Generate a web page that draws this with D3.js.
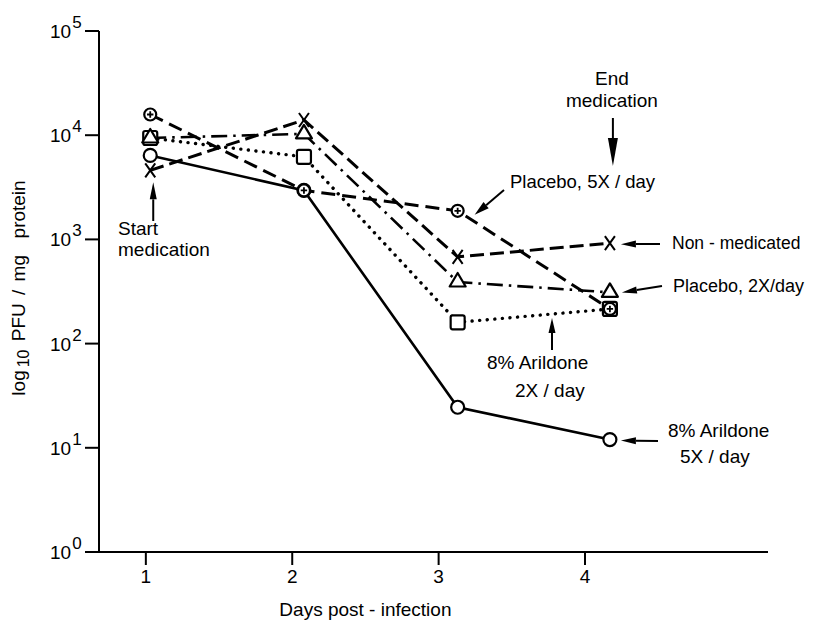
<!DOCTYPE html>
<html>
<head>
<meta charset="utf-8">
<script src="https://cdn.jsdelivr.net/npm/d3@7"></script>
<style>
	body { margin: 0; background: #fff; }
	svg { display: block; font-family: "Liberation Sans", Arial, sans-serif; }
	text { fill: #000; font-size: 19px; white-space: pre; }
</style>
</head>
<body>
<svg id="chart" width="816" height="621"></svg>
<script>
// sampling days as plotted (markers sit a little right of the tick marks)
const days = [1.03, 2.08, 3.13, 4.17];
const dayTicks = [1, 2, 3, 4];
const decades = [1, 10, 100, 1000, 10000, 100000];
const exponents = ["0", "1", "2", "3", "4", "5"];

// PFU / mg protein per group
const arildone5 = [6400, 2950, 24.5, 12];
const arildone2 = [9400, 6200, 160, 215];
const placebo5 = [15800, 2950, 1880, 215];
const placebo2 = [9400, 10300, 390, 310];
const nonMedicated = [4600, 14000, 680, 920];

const ink = "#000";

let svg = d3.select("#chart");

let x = d3.scaleLinear().domain([0.68, 5.25]).range([99, 768]);
let y = d3.scaleLog().domain([1, 1e5]).range([552, 31]);

// axes
let yAxis = svg.append("g")
	.attr("transform", "translate(99,0)")
	.call(d3.axisLeft(y).tickValues(decades).tickSize(14).tickSizeOuter(0).offset(0).tickFormat(""));

let xAxis = svg.append("g")
	.attr("transform", "translate(0,552)")
	.call(d3.axisBottom(x).tickValues(dayTicks).tickSize(13).tickSizeOuter(0).offset(0).tickPadding(5).tickFormat(d3.format("d")));

svg.selectAll("g").attr("font-size", null).attr("font-family", null);
svg.selectAll(".domain, .tick line").attr("stroke", ink).attr("stroke-width", 2);
xAxis.select(".domain").attr("d", "M99,0H" + x.range()[1]);

yAxis.selectAll(".tick text")
	.attr("x", -49)
	.attr("dy", null)
	.attr("y", 7)
	.attr("text-anchor", "start")
	.attr("fill", ink)
	.each(function(d, i) {
		let t = d3.select(this);
		t.append("tspan").text("10");
		t.append("tspan").attr("dx", 1).attr("dy", -10).attr("font-size", 17).text(exponents[i]);
	});

xAxis.selectAll(".tick text").attr("fill", ink);

svg.append("text")
	.attr("x", x(2.5))
	.attr("y", 616)
	.attr("text-anchor", "middle")
	.text("Days post - infection");

let ylab = svg.append("text")
	.attr("transform", "translate(25,288) rotate(-90)")
	.attr("text-anchor", "middle")
	.attr("word-spacing", 3);
ylab.append("tspan").text("log");
ylab.append("tspan").attr("dx", 3).attr("dy", 4).attr("font-size", 16).text("10");
ylab.append("tspan").attr("dy", -4).text(" PFU / mg  protein");

// series
let series = [
	{ values: arildone5, mark: "circle", dash: null, width: 2.6 },
	{ values: nonMedicated, mark: "x", dash: "14,6", width: 3 },
	{ values: placebo2, mark: "triangle", dash: "16,6,2.5,6", width: 2.6 },
	{ values: arildone2, mark: "square", dash: "0.1,7.5", width: 3.4 },
	{ values: placebo5, mark: "plus", dash: "14,7", width: 3 }
];

let line = d3.line()
	.x((d, i) => x(days[i]))
	.y(d => y(d));

svg.append("g").selectAll("path")
	.data(series)
	.enter()
	.append("path")
	.attr("d", s => line(s.values))
	.attr("fill", "none")
	.attr("stroke", ink)
	.attr("stroke-width", s => s.width)
	.attr("stroke-dasharray", s => s.dash)
	.attr("stroke-linecap", s => s.mark == "square" ? "round" : "butt");

const shapes = {
	circle: "M6.5,0A6.5,6.5 0 1,1 -6.5,0A6.5,6.5 0 1,1 6.5,0Z",
	square: "M-7,-5V5Q-7,7 -5,7H5Q7,7 7,5V-5Q7,-7 5,-7H-5Q-7,-7 -7,-5Z",
	triangle: "M0,-9L8,4.5H-8Z",
	x: "M-5,-7L5,7M5,-7L-5,7",
	plus: "M6,0A6,6 0 1,1 -6,0A6,6 0 1,1 6,0Z"
};

let markOrder = ["circle", "x", "square", "triangle", "plus"];
markOrder.forEach(m => {
	let s = series.find(d => d.mark == m);
	let g = svg.append("g").selectAll("g")
		.data(s.values)
		.enter()
		.append("g")
		.attr("transform", (d, i) => "translate(" + x(days[i]) + "," + y(d) + ")");
	g.append("path")
		.attr("d", shapes[m])
		.attr("fill", m == "x" ? "none" : "#fff")
		.attr("stroke", ink)
		.attr("stroke-width", m == "x" ? 2 : 2.2)
		.attr("stroke-linejoin", "round");
	if (m == "plus") {
		g.append("path")
			.attr("d", "M-3.2,0H3.2M0,-3.2V3.2")
			.attr("stroke", ink)
			.attr("stroke-width", 1.8);
	}
});

// annotations
function arrow(x1, y1, x2, y2, len, half) {
	let a = Math.atan2(y2 - y1, x2 - x1);
	let bx = x2 - len * Math.cos(a), by = y2 - len * Math.sin(a);
	let nx = -Math.sin(a) * half, ny = Math.cos(a) * half;
	svg.append("line")
		.attr("x1", x1).attr("y1", y1)
		.attr("x2", bx).attr("y2", by)
		.attr("stroke", ink)
		.attr("stroke-width", 2);
	svg.append("path")
		.attr("d", "M" + x2 + "," + y2 + "L" + (bx + nx) + "," + (by + ny) + "L" + (bx - nx) + "," + (by - ny) + "Z")
		.attr("fill", ink);
}

function label(lines, tx, ty, anchor, gap, size) {
	gap = gap || 0;
	let t = svg.append("text").attr("text-anchor", anchor || "start");
	if (size) t.style("font-size", size + "px");
	lines.forEach((s, i) => {
		t.append("tspan")
			.attr("x", tx[i])
			.attr("y", ty + i * gap)
			.text(s);
	});
}

let d1 = x(days[0]), d3x = x(days[2]), d4 = x(days[3]);

arrow(d1 + 3, 221, d1 + 3, y(nonMedicated[0]) + 12, 17, 3.5);
label(["Start", "medication"], [118, 118], 235, "start", 21);

arrow(d4 + 3, 118, d4 + 3, 166, 28, 5);
label(["End", "medication"], [d4 + 2, d4 + 2], 85, "middle", 22);

arrow(504, 190, d3x + 17, y(placebo5[2]) + 4, 15, 4);
label(["Placebo, 5X / day"], [510], 188, "start", 0, 18.5);

arrow(660, 244, d4 + 11, y(nonMedicated[3]) + 1, 15, 3.5);
label(["Non - medicated"], [672], 249, "start", 0, 17.5);

arrow(662, 286, d4 + 12, y(placebo2[3]), 15, 3.5);
label(["Placebo, 2X/day"], [673], 292, "start", 0, 18);

arrow(552, 350, 552, 318, 15, 3.5);
label(["8% Arildone", "2X / day"], [487, 515], 369, "start", 28);

arrow(658, 441, d4 + 11, y(arildone5[3]) + 1, 15, 3.5);
label(["8% Arildone", "5X / day"], [668, 680], 437, "start", 26);
</script>
</body>
</html>
